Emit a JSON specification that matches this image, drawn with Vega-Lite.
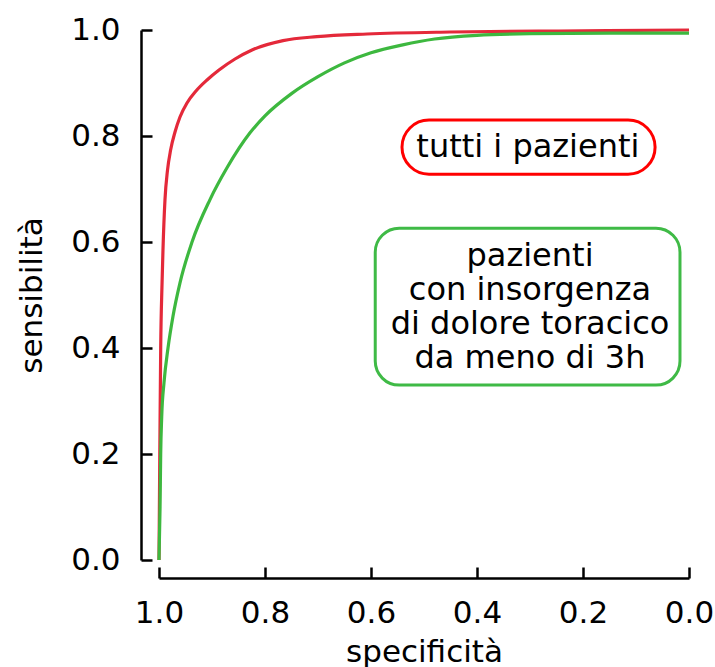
{
  "$schema": "https://vega.github.io/schema/vega-lite/v6.json",
  "autosize": {"type": "none"},
  "width": 530,
  "height": 530,
  "padding": {"left": 159, "top": 30, "right": 26, "bottom": 107},
  "background": "white",
  "config": {
    "view": {"stroke": null},
    "font": "DejaVu Sans",
    "axis": {
      "grid": false,
      "domainColor": "black",
      "domainWidth": 2.5,
      "tickColor": "black",
      "tickWidth": 2.5,
      "tickSize": -11,
      "labelFont": "DejaVu Sans",
      "labelFontSize": 31,
      "labelColor": "black",
      "labelFlush": false,
      "titleFont": "DejaVu Sans",
      "titleFontSize": 31,
      "titleFontWeight": "normal",
      "titleColor": "black",
      "offset": 18
    }
  },
  "datasets": {
    "roc": [
      {"curve": "tutti", "spec": 1.0, "sens": 0.0},
      {"curve": "tutti", "spec": 0.9985, "sens": 0.2},
      {"curve": "tutti", "spec": 0.9968, "sens": 0.4},
      {"curve": "tutti", "spec": 0.9943, "sens": 0.52},
      {"curve": "tutti", "spec": 0.9925, "sens": 0.585},
      {"curve": "tutti", "spec": 0.9887, "sens": 0.68},
      {"curve": "tutti", "spec": 0.984, "sens": 0.735},
      {"curve": "tutti", "spec": 0.978, "sens": 0.774},
      {"curve": "tutti", "spec": 0.9698, "sens": 0.8075},
      {"curve": "tutti", "spec": 0.9604, "sens": 0.8358},
      {"curve": "tutti", "spec": 0.9472, "sens": 0.8623},
      {"curve": "tutti", "spec": 0.9302, "sens": 0.8849},
      {"curve": "tutti", "spec": 0.9094, "sens": 0.9057},
      {"curve": "tutti", "spec": 0.8868, "sens": 0.9245},
      {"curve": "tutti", "spec": 0.8566, "sens": 0.9453},
      {"curve": "tutti", "spec": 0.8245, "sens": 0.9623},
      {"curve": "tutti", "spec": 0.766, "sens": 0.980},
      {"curve": "tutti", "spec": 0.7019, "sens": 0.9875},
      {"curve": "tutti", "spec": 0.6075, "sens": 0.9925},
      {"curve": "tutti", "spec": 0.451, "sens": 0.9962},
      {"curve": "tutti", "spec": 0.2453, "sens": 0.9981},
      {"curve": "tutti", "spec": 0.0, "sens": 1.0},
      {"curve": "3h", "spec": 1.0, "sens": 0.0},
      {"curve": "3h", "spec": 0.998, "sens": 0.1},
      {"curve": "3h", "spec": 0.9968, "sens": 0.2},
      {"curve": "3h", "spec": 0.9949, "sens": 0.27},
      {"curve": "3h", "spec": 0.9906, "sens": 0.334},
      {"curve": "3h", "spec": 0.983, "sens": 0.4},
      {"curve": "3h", "spec": 0.9736, "sens": 0.46},
      {"curve": "3h", "spec": 0.9604, "sens": 0.523},
      {"curve": "3h", "spec": 0.9377, "sens": 0.6},
      {"curve": "3h", "spec": 0.9038, "sens": 0.68},
      {"curve": "3h", "spec": 0.8717, "sens": 0.74},
      {"curve": "3h", "spec": 0.8283, "sens": 0.806},
      {"curve": "3h", "spec": 0.800, "sens": 0.838},
      {"curve": "3h", "spec": 0.750, "sens": 0.880},
      {"curve": "3h", "spec": 0.700, "sens": 0.912},
      {"curve": "3h", "spec": 0.650, "sens": 0.938},
      {"curve": "3h", "spec": 0.600, "sens": 0.957},
      {"curve": "3h", "spec": 0.540, "sens": 0.972},
      {"curve": "3h", "spec": 0.480, "sens": 0.983},
      {"curve": "3h", "spec": 0.400, "sens": 0.990},
      {"curve": "3h", "spec": 0.300, "sens": 0.993},
      {"curve": "3h", "spec": 0.150, "sens": 0.994},
      {"curve": "3h", "spec": 0.0, "sens": 0.994}
    ],
    "boxes": [
      {"curve": "tutti", "x1": 0.5415, "x2": 0.064, "y1": 0.830, "y2": 0.728},
      {"curve": "3h", "x1": 0.592, "x2": 0.017, "y1": 0.626, "y2": 0.330}
    ],
    "labels": [
      {"curve": "tutti", "label": "tutti i pazienti", "x": 0.304, "y": 0.779},
      {"curve": "3h", "label": "pazienti\ncon insorgenza\ndi dolore toracico\nda meno di 3h", "x": 0.300, "y": 0.574}
    ]
  },
  "layer": [
    {
      "data": {"name": "roc"},
      "mark": {"type": "line", "strokeWidth": 3.2, "interpolate": "monotone", "clip": false},
      "encoding": {
        "x": {"field": "spec", "type": "quantitative", "scale": {"domain": [1, 0], "nice": false, "zero": false},
              "axis": {"values": [1, 0.8, 0.6, 0.4, 0.2, 0], "format": ".1f", "title": "specificità", "labelPadding": 31, "titlePadding": 9}},
        "y": {"field": "sens", "type": "quantitative", "scale": {"domain": [0, 1], "nice": false},
              "axis": {"values": [0, 0.2, 0.4, 0.6, 0.8, 1], "format": ".1f", "title": "sensibilità", "labelPadding": 32, "titlePadding": 22}},
        "color": {"field": "curve", "type": "nominal", "scale": {"domain": ["tutti", "3h"], "range": ["#e4293a", "#3db83f"]}, "legend": null},
        "order": {"field": "sens", "type": "quantitative"}
      }
    },
    {
      "data": {"name": "boxes"},
      "transform": [{"filter": "datum.curve === 'tutti'"}],
      "mark": {"type": "rect", "fill": "white", "strokeWidth": 3, "stroke": "#ff0000", "cornerRadius": 27},
      "encoding": {
        "x": {"field": "x1", "type": "quantitative"},
        "x2": {"field": "x2"},
        "y": {"field": "y1", "type": "quantitative"},
        "y2": {"field": "y2"}
      }
    },
    {
      "data": {"name": "boxes"},
      "transform": [{"filter": "datum.curve === '3h'"}],
      "mark": {"type": "rect", "fill": "white", "strokeWidth": 3, "stroke": "#3fba46", "cornerRadius": 24},
      "encoding": {
        "x": {"field": "x1", "type": "quantitative"},
        "x2": {"field": "x2"},
        "y": {"field": "y1", "type": "quantitative"},
        "y2": {"field": "y2"}
      }
    },
    {
      "data": {"name": "labels"},
      "mark": {"type": "text", "font": "DejaVu Sans", "fontSize": 32, "color": "black", "align": "center", "baseline": "middle", "lineBreak": "\n", "lineHeight": 34},
      "encoding": {
        "x": {"field": "x", "type": "quantitative"},
        "y": {"field": "y", "type": "quantitative"},
        "text": {"field": "label"}
      }
    }
  ]
}
